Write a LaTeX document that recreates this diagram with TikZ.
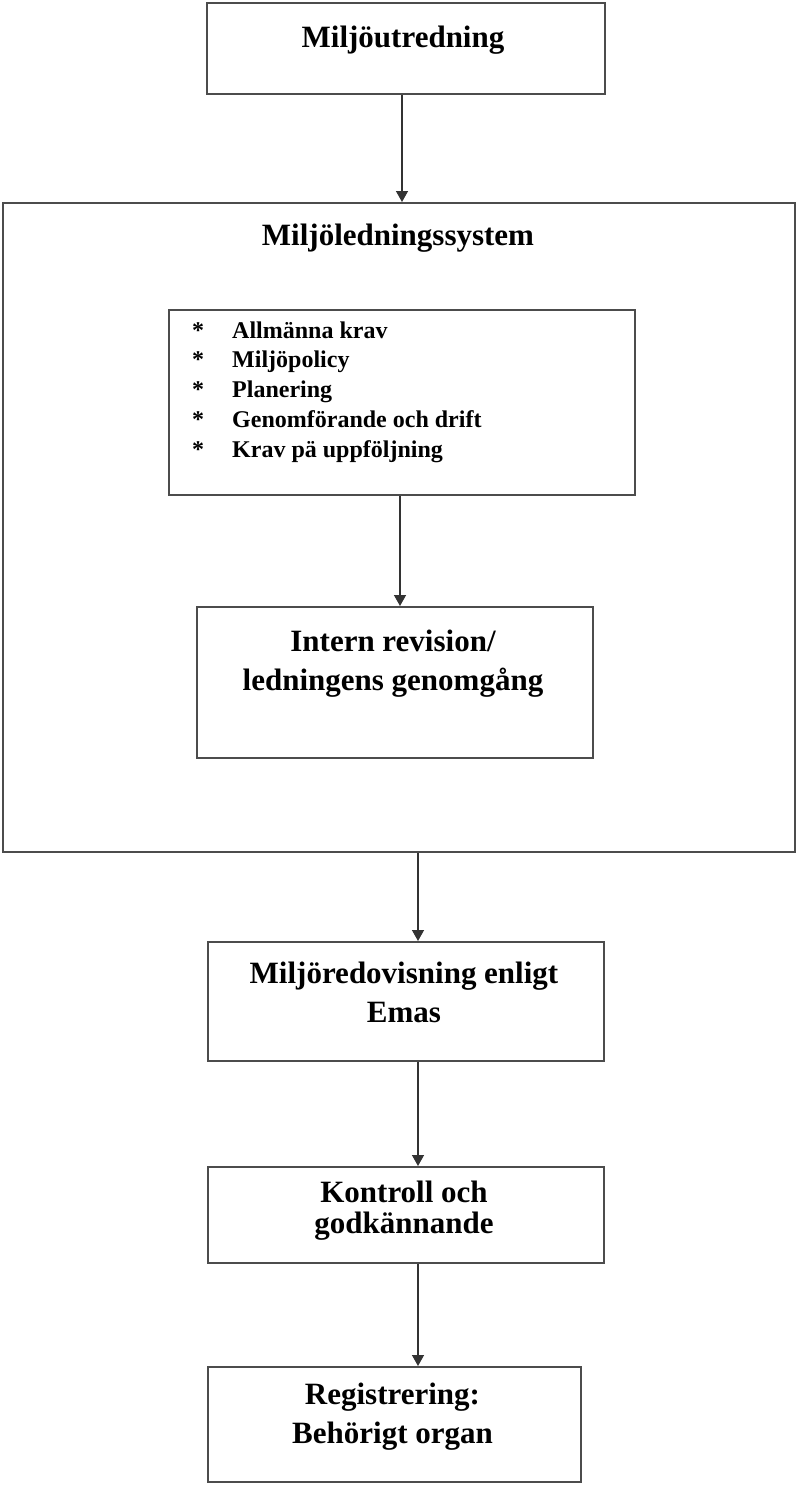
\documentclass[tikz,border=0pt]{standalone}
\usepackage{fontspec}
\setmainfont{Liberation Serif}
\usetikzlibrary{arrows.meta,positioning}

\begin{document}
\begin{tikzpicture}[
      x=1pt, y=-1pt,
      box/.style={rectangle, draw=black!70, line width=2pt, inner sep=0pt},
      rubrik/.style={anchor=base, align=center, inner sep=0pt, font=\bfseries\fontsize{31}{38.5}\selectfont},
      punkt/.style={anchor=base west, inner sep=0pt, font=\bfseries\fontsize{24}{30}\selectfont},
      arr/.style={-{Triangle[length=11pt, width=12pt]}, line width=1.4pt, draw=black!80},
    ]
    \useasboundingbox (0,0) rectangle (798,1485);

    % boxes
    \node[box, minimum width=398pt, minimum height=91pt] (utr) at (406,48.5) {};
    \node[box, minimum width=792pt, minimum height=649pt] (system) at (399,527.5) {};
    \node[box, minimum width=466pt, minimum height=185pt] (krav) at (402,402.5) {};
    \node[box, minimum width=396pt, minimum height=151pt] (revision) at (395,682.5) {};
    \node[box, minimum width=396pt, minimum height=119pt] (emas) at (406,1001.5) {};
    \node[box, minimum width=396pt, minimum height=96pt] (kontroll) at (406,1215) {};
    \node[box, minimum width=373pt, minimum height=115pt] (reg) at (394.5,1424.5) {};

    % texts (base = last line)
    \node[rubrik] (utrtext) at (403,48) {Miljöutredning};
    \node[rubrik] (systext) at (398,245) {Miljöledningssystem};
    \node[rubrik] (revtext) at (393,690) {Intern revision/\\ledningens genomgång};
    \node[rubrik] (emastext) at (404,1022) {Miljöredovisning enligt\\Emas};
    \node[rubrik, font=\bfseries\fontsize{31}{31}\selectfont] (kontext) at (404,1233) {Kontroll och\\godkännande};
    \node[rubrik] (regtext) at (392.5,1443) {Registrering:\\Behörigt organ};

    \foreach \txt [count=\i] in {Allmänna krav, Miljöpolicy, Planering, Genomförande och drift, Krav pä uppföljning} {
      \node[punkt] (s\i) at (192,338+29.8*\i-29.8) {*};
      \node[punkt] (p\i) at (232,338+29.8*\i-29.8) {\txt};
    }

    % arrows
    \draw[arr] ([xshift=-4pt]utr.south) -- ([xshift=3pt]system.north);
    \draw[arr] ([xshift=-2pt]krav.south) -- ([xshift=5pt]revision.north);
    \draw[arr] ([xshift=19pt]system.south) -- ([xshift=12pt]emas.north);
    \draw[arr] ([xshift=12pt]emas.south) -- ([xshift=12pt]kontroll.north);
    \draw[arr] ([xshift=12pt]kontroll.south) -- ([xshift=23.5pt]reg.north);
  \end{tikzpicture}
\end{document}
